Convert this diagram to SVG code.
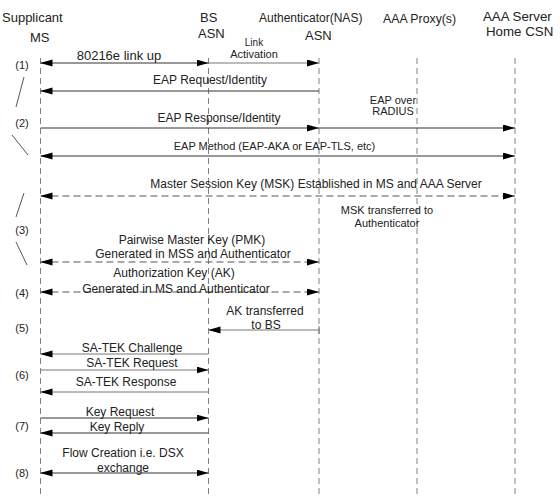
<svg xmlns="http://www.w3.org/2000/svg" width="560" height="497" viewBox="0 0 560 497">
<style>
text{font-family:"Liberation Sans",Arial,sans-serif;fill:#222}
.h{font-size:13px}
.m{font-size:12px;text-anchor:middle}
.s{font-size:11px;text-anchor:middle}
.n{font-size:11px;text-anchor:middle}
.life{stroke:#808080;stroke-width:1;stroke-dasharray:6,4;fill:none}
.msg{stroke:#333;stroke-width:1;fill:none}
.lt{stroke:#777;stroke-width:1;fill:none}
.d{stroke:#555;stroke-width:1;stroke-dasharray:7,4;fill:none}
.sl{stroke:#555;stroke-width:1;fill:none}
.e{marker-end:url(#ah)}
.b{marker-start:url(#ah);marker-end:url(#ah)}
</style>
<defs>
<marker id="ah" markerUnits="userSpaceOnUse" markerWidth="12" markerHeight="8" refX="12" refY="3.5" orient="auto-start-reverse">
<path d="M0,0 L12,3.5 L0,7 z" fill="#000"/>
</marker>
</defs>
<rect width="560" height="497" fill="#fff"/>
<g id="ms">
<text class="h" x="2" y="22">Supplicant</text>
<text class="h" x="30" y="42">MS</text>
<line class="life" x1="40.5" y1="58" x2="40.5" y2="497"/>
</g>
<g id="bs">
<text class="h" x="200" y="22">BS</text>
<text class="h" x="198" y="38">ASN</text>
<line class="life" x1="208.5" y1="58" x2="208.5" y2="497"/>
</g>
<g id="auth">
<text x="259" y="22" style="font-size:12px">Authenticator(NAS)</text>
<text class="h" x="305" y="40">ASN</text>
<line class="life" x1="319" y1="58" x2="319" y2="497"/>
</g>
<g id="proxy">
<text x="383" y="23" style="font-size:12.3px">AAA Proxy(s)</text>
<line class="life" x1="417" y1="58" x2="417" y2="497"/>
</g>
<g id="server">
<text x="483" y="21" style="font-size:13.3px">AAA Server</text>
<text x="486" y="36" style="font-size:13.3px">Home CSN</text>
<line class="life" x1="515" y1="58" x2="515" y2="497"/>
</g>
<g id="steps">
<text class="n" x="22" y="69">(1)</text>
<text class="n" x="22" y="127">(2)</text>
<text class="n" x="22" y="234">(3)</text>
<text class="n" x="22" y="297">(4)</text>
<text class="n" x="22" y="332">(5)</text>
<text class="n" x="22" y="379">(6)</text>
<text class="n" x="22" y="430">(7)</text>
<text class="n" x="22" y="477">(8)</text>
<line class="sl" x1="16" y1="107" x2="24" y2="77"/>
<line class="sl" x1="12" y1="135" x2="28" y2="155"/>
<line class="sl" x1="16" y1="217" x2="24" y2="193"/>
<line class="sl" x1="16" y1="242" x2="27" y2="265"/>
</g>
<g id="connectors">
<line class="msg b" x1="40.5" y1="63" x2="208.5" y2="63"/>
<line class="lt e" x1="208.5" y1="63" x2="319" y2="63"/>
<line class="msg e" x1="319" y1="91" x2="40.5" y2="91"/>
<line class="msg e" x1="40.5" y1="128" x2="319" y2="128"/>
<line class="msg e" x1="319" y1="128" x2="515" y2="128"/>
<line class="msg b" x1="40.5" y1="156" x2="515" y2="156"/>
<line class="d b" x1="40.5" y1="196" x2="515" y2="196"/>
<line class="d b" x1="40.5" y1="262" x2="319" y2="262"/>
<line class="d b" x1="40.5" y1="292" x2="319" y2="292"/>
<line class="lt e" x1="319" y1="330" x2="208.5" y2="330"/>
<line class="lt" x1="319" y1="326" x2="319" y2="334"/>
<line class="lt e" x1="208.5" y1="354" x2="40.5" y2="354"/>
<line class="lt e" x1="40.5" y1="370" x2="208.5" y2="370"/>
<line class="lt e" x1="208.5" y1="392" x2="40.5" y2="392"/>
<line class="msg e" x1="40.5" y1="418" x2="208.5" y2="418"/>
<line class="msg e" x1="208.5" y1="433" x2="40.5" y2="433"/>
<line class="msg b" x1="40.5" y1="473" x2="208.5" y2="473"/>
</g>
<g id="labels">
<text class="m" x="119" y="60" style="font-size:13px">80216e link up</text>
<text class="s" x="254" y="46" style="font-size:10px">Link</text>
<text class="s" x="254" y="58">Activation</text>
<text class="m" x="210" y="84">EAP Request/Identity</text>
<text class="m" x="219" y="122">EAP Response/Identity</text>
<text class="s" x="393" y="104">EAP over</text>
<text class="s" x="393" y="115">RADIUS</text>
<text class="s" x="274.5" y="150">EAP Method (EAP-AKA or EAP-TLS, etc)</text>
<text class="m" x="316" y="188">Master Session Key (MSK) Established in MS and AAA Server</text>
<text class="s" x="387" y="214">MSK transferred to</text>
<text class="s" x="387" y="227">Authenticator</text>
<text class="m" x="192" y="244">Pairwise Master Key (PMK)</text>
<text class="m" x="193" y="258">Generated in MSS and Authenticator</text>
<text class="m" x="174" y="277">Authorization Key (AK)</text>
<text class="m" x="176" y="293">Generated in MS and Authenticator</text>
<text class="m" x="265" y="315">AK transferred</text>
<text class="m" x="266" y="329">to BS</text>
<text class="m" x="132" y="352">SA-TEK Challenge</text>
<text class="m" x="132" y="367">SA-TEK Request</text>
<text class="m" x="126" y="386">SA-TEK Response</text>
<text class="m" x="120" y="416">Key Request</text>
<text class="m" x="117" y="431">Key Reply</text>
<text class="m" x="123" y="457">Flow Creation i.e. DSX</text>
<text class="m" x="123" y="472">exchange</text>
</g>
</svg>
